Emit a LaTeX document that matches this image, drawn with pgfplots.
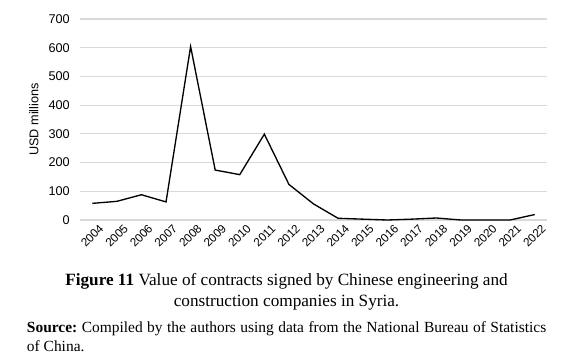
\documentclass[border=0pt]{standalone}
\usepackage{pgfplots}
\pgfplotsset{compat=1.18}
\usepackage{fontspec}
\setmainfont{Liberation Serif}
\newfontfamily\arialf{Liberation Sans}
\definecolor{gridgray}{RGB}{217,217,217}
\frenchspacing
\begin{document}
\begin{tikzpicture}
\path[use as bounding box] (0,0) rectangle (425.25pt,-271.5pt);
\begin{axis}[
  at={(60pt,-165pt)}, anchor=south west,
  scale only axis, width=350.25pt, height=150.75pt,
  xmin=2003.5, xmax=2022.5, ymin=0, ymax=700,
  axis line style={draw=none},
  major tick length=0pt,
  ytick={0,100,...,700},
  xtick={2004,...,2022},
  ymajorgrids, grid style={gridgray, line width=0.8pt},
  /pgf/number format/assume math mode=true,
  xticklabel={\pgfmathprintnumber[1000 sep={}]{\tick}},
  x tick label style={font=\arialf\fontsize{8.8}{10}\selectfont, rotate=45, anchor=north east, inner sep=0pt, xshift=1.5pt, yshift=-5pt},
  y tick label style={font=\arialf\fontsize{9.5}{10}\selectfont, inner sep=0pt, xshift=-7.5pt},
  ylabel={USD millions},
  ylabel style={font=\arialf\fontsize{9.5}{10}\selectfont, at={(ticklabel cs:0.5)}, anchor=south, yshift=4pt},
  clip=false,
]
\addplot[black, line width=1pt] coordinates {
(2004,58) (2005,65) (2006,88) (2007,63) (2008,604) (2009,174) (2010,158)
(2011,299) (2012,124) (2013,56) (2014,6) (2015,3) (2016,0) (2017,3)
(2018,7) (2019,0) (2020,0) (2021,0) (2022,19)
};
\end{axis}
\node[anchor=base, inner sep=0pt, font=\fontsize{12.9}{16.5}\selectfont] at (214.9pt,-213.75pt)
  {\textbf{Figure 11} Value of contracts signed by Chinese engineering and};
\node[anchor=base, inner sep=0pt, font=\fontsize{12.9}{16.5}\selectfont] at (214.9pt,-230pt)
  {construction companies in Syria.};
\node[anchor=base west, inner sep=0pt, font=\fontsize{11.6}{13.7}\selectfont] at (20pt,-249.5pt)
  {\makebox[389.5pt][s]{\textbf{Source:} Compiled by the authors using data from the National Bureau of Statistics}};
\node[anchor=base west, inner sep=0pt, font=\fontsize{11.6}{13.7}\selectfont] at (20pt,-263.8pt)
  {of China.};
\end{tikzpicture}
\end{document}
